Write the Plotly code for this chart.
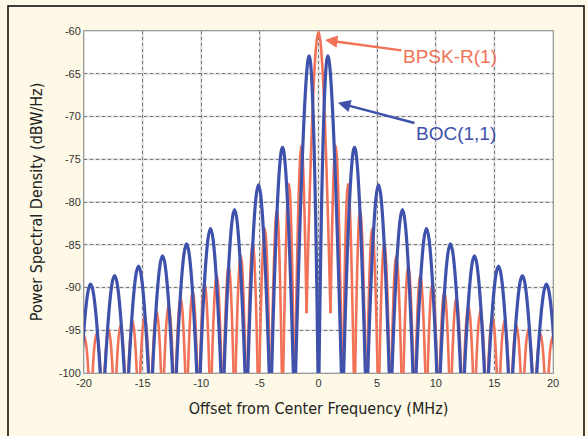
import plotly.graph_objects as go

# ---------------- data ----------------
# BPSK-R(1): one-sided null frequencies (MHz) and PSD at those nulls (dBW/Hz; -105 = off-scale)
bpsk_null_mhz = [1.02, 2.05, 3.07, 4.09, 5.12, 6.14, 7.16, 8.18, 9.21, 10.23,
                 11.25, 12.28, 13.30, 14.32, 15.35, 16.37, 17.39, 18.41, 19.44, 20.46]
bpsk_null_db = [-93, -105, -105, -105, -105, -105, -105, -105, -105, -105,
                -105, -105, -105, -105, -105, -105, -105, -105, -105, -105]
# lobe peaks (main lobe first)
bpsk_peak_mhz = [0.0, 1.46, 2.52, 3.55, 4.58, 5.61, 6.63, 7.66, 8.68, 9.71,
                 10.73, 11.76, 12.78, 13.81, 14.83, 15.86, 16.88, 17.90, 18.93, 19.95]
bpsk_peak_db = [-60.1, -73.4, -77.9, -80.9, -83.1, -84.8, -86.3, -87.5, -88.6, -89.6,
                -90.5, -91.3, -92.0, -92.7, -93.3, -93.9, -94.4, -94.9, -95.4, -95.8]

# BOC(1,1): one-sided nulls and lobe peaks
boc_null_mhz = [0.0, 2.05, 4.09, 6.14, 8.18, 10.23, 12.28, 14.32, 16.37, 18.41, 20.46]
boc_null_db = [-105, -105, -105, -105, -105, -105, -105, -105, -105, -105, -105]
boc_peak_mhz = [0.8, 3.07, 5.12, 7.16, 9.21, 11.25, 13.30, 15.35, 17.39, 19.44]
boc_peak_db = [-62.9, -73.6, -78.0, -80.9, -83.1, -84.9, -86.3, -87.5, -88.6, -89.6]

x_ticks = [-20, -15, -10, -5, 0, 5, 10, 15, 20]
y_ticks = [-100, -95, -90, -85, -80, -75, -70, -65, -60]

x_title = "Offset from Center Frequency (MHz)"
y_title = "Power Spectral Density (dBW/Hz)"

# ---------------- build lobe segments (null - peak - null) ----------------
def add_lobe(xs, ys, xl, yl, xp, yp, xr, yr):
    xs += [xl, xp, xr, None]
    ys += [yl, yp, yr, None]

bx, by = [], []
add_lobe(bx, by, -bpsk_null_mhz[0], bpsk_null_db[0], bpsk_peak_mhz[0], bpsk_peak_db[0],
         bpsk_null_mhz[0], bpsk_null_db[0])
for i in range(1, len(bpsk_peak_mhz)):
    for s in (1, -1):
        add_lobe(bx, by, s * bpsk_null_mhz[i - 1], bpsk_null_db[i - 1],
                 s * bpsk_peak_mhz[i], bpsk_peak_db[i],
                 s * bpsk_null_mhz[i], bpsk_null_db[i])

ox, oy = [], []
for i in range(len(boc_peak_mhz)):
    for s in (1, -1):
        add_lobe(ox, oy, s * boc_null_mhz[i], boc_null_db[i],
                 s * boc_peak_mhz[i], boc_peak_db[i],
                 s * boc_null_mhz[i + 1], boc_null_db[i + 1])

RED = "#f27258"
BLUE = "#3f52ab"

fig = go.Figure()
fig.add_trace(go.Scatter(x=bx, y=by, mode="lines", name="BPSK-R(1)",
                         line=dict(color=RED, width=2.6, shape="spline", smoothing=1.3),
                         connectgaps=False, showlegend=False))
fig.add_trace(go.Scatter(x=ox, y=oy, mode="lines", name="BOC(1,1)",
                         line=dict(color=BLUE, width=3.2, shape="spline", smoothing=1.3),
                         connectgaps=False, showlegend=False))

W, H = 588, 436
ML, MR, MT, MB = 84, 35, 31, 63
pw, ph = W - ML - MR, H - MT - MB

def px_to_paper(px, py):
    return (px - ML) / pw, (H - MB - py) / ph

# outer frame
x0, y0 = px_to_paper(8, 445)
x1, y1 = px_to_paper(584, 6)
fig.add_shape(type="rect", xref="paper", yref="paper", x0=x0, y0=y0, x1=x1, y1=y1,
              line=dict(color="black", width=1.5), layer="below")

# faint solid grid under the dotted grid (MATLAB-style look)
for v in x_ticks:
    fig.add_shape(type="line", xref="x", yref="paper", x0=v, x1=v, y0=0, y1=1,
                  line=dict(color="#dcdcdc", width=2), layer="below")
for v in y_ticks:
    fig.add_shape(type="line", xref="paper", yref="y", x0=0, x1=1, y0=v, y1=v,
                  line=dict(color="#dcdcdc", width=2), layer="below")

fig.add_annotation(x=0.55, y=-61.05, xref="x", yref="y", text="BPSK-R(1)",
                   ax=125, ay=17, showarrow=True, arrowhead=2, arrowsize=1,
                   arrowwidth=2.5, arrowcolor=RED, standoff=0,
                   font=dict(family="Liberation Sans, Arial", size=19, color=RED))
fig.add_annotation(x=1.66, y=-68.4, xref="x", yref="y", text="BOC(1,1)",
                   ax=118, ay=31, showarrow=True, arrowhead=2, arrowsize=1,
                   arrowwidth=2.5, arrowcolor=BLUE, standoff=0,
                   font=dict(family="Liberation Sans, Arial", size=19, color=BLUE))

axis_font = dict(family="Liberation Sans Narrow, DejaVu Sans Condensed, Roboto, sans-serif",
                 size=16, color="#222")
tick_font = dict(family="Liberation Sans, Arial", size=11, color="#333")

fig.update_xaxes(range=[-20, 20], tickvals=x_ticks, ticktext=[str(v) for v in x_ticks],
                 showgrid=True, gridcolor="#7a7a7a", griddash="dot", gridwidth=1,
                 showline=True, linecolor="#9a9a9a", linewidth=1, mirror=True,
                 ticks="", zeroline=False, tickfont=tick_font,
                 title=dict(text=x_title, font=axis_font, standoff=14))
fig.update_yaxes(range=[-100, -60], tickvals=y_ticks, ticktext=[str(v) for v in y_ticks],
                 showgrid=True, gridcolor="#7a7a7a", griddash="dot", gridwidth=1,
                 showline=True, linecolor="#9a9a9a", linewidth=1, mirror=True,
                 ticks="", zeroline=False, tickfont=tick_font,
                 title=dict(text=y_title, font=axis_font, standoff=12))

fig.update_layout(width=W, height=H, margin=dict(l=ML, r=MR, t=MT, b=MB, autoexpand=False),
                  paper_bgcolor="#fdf9e6", plot_bgcolor="white", showlegend=False)

fig.write_html("out.html")
